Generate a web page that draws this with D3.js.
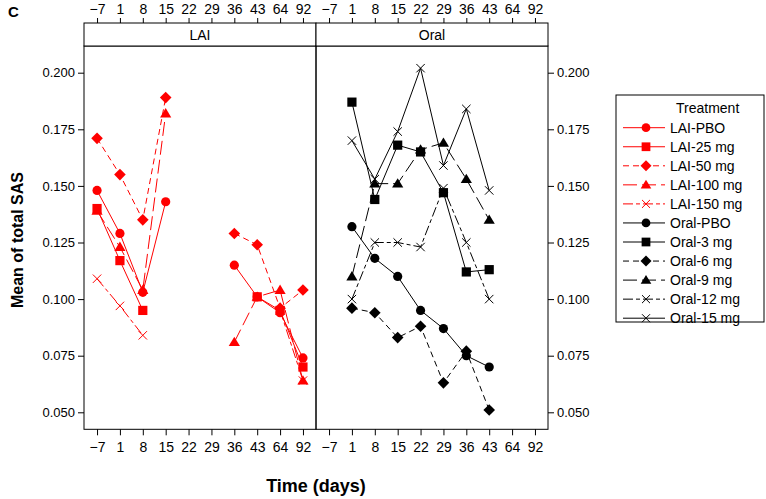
<!DOCTYPE html>
<html><head><meta charset="utf-8">
<script src="https://cdn.jsdelivr.net/npm/d3@7"></script>
<style>
body{margin:0;background:#fff;}
svg{display:block;font-family:"Liberation Sans",Arial,sans-serif;}
.narrow{font-family:"Liberation Sans Narrow","Liberation Sans",Arial,sans-serif;}
</style></head>
<body>
<svg id="chart" width="766" height="499"></svg>
<script>
// ---- data ----
const timeLabels = ["−7","1","8","15","22","29","36","43","64","92"];
const yTicks = [0.050, 0.075, 0.100, 0.125, 0.150, 0.175, 0.200];
const panels = ["LAI", "Oral"];

const laiPBO  = [0.148, 0.129, 0.103, 0.143, null, null, 0.115, 0.101, 0.094, 0.074];
const lai25   = [0.140, 0.117, 0.095, null, null, null, null, 0.101, 0.095, 0.070];
const lai50   = [0.171, 0.155, 0.135, 0.189, null, null, 0.129, 0.124, 0.096, 0.104];
const lai100  = [0.139, 0.123, 0.104, 0.182, null, null, 0.081, 0.101, 0.104, 0.064];
const lai150  = [0.109, 0.097, 0.084, null, null, null, null, null, 0.095, 0.064];

const oralPBO = [null, 0.132, 0.118, 0.110, 0.095, 0.087, 0.075, 0.070, null, null];
const oral3   = [null, 0.187, 0.144, 0.168, 0.165, 0.147, 0.112, 0.113, null, null];
const oral6   = [null, 0.096, 0.094, 0.083, 0.088, 0.063, 0.077, 0.051, null, null];
const oral9   = [null, 0.110, 0.151, 0.151, 0.166, 0.169, 0.153, 0.135, null, null];
const oral12  = [null, 0.100, 0.125, 0.125, 0.123, 0.149, 0.125, 0.100, null, null];
const oral15  = [null, 0.170, 0.153, 0.174, 0.202, 0.159, 0.184, 0.148, null, null];

const seriesNames = ["LAI-PBO","LAI-25 mg","LAI-50 mg","LAI-100 mg","LAI-150 mg",
                     "Oral-PBO","Oral-3 mg","Oral-6 mg","Oral-9 mg","Oral-12 mg","Oral-15 mg"];
const seriesValues = [laiPBO, lai25, lai50, lai100, lai150, oralPBO, oral3, oral6, oral9, oral12, oral15];
const seriesPanel = ["LAI","LAI","LAI","LAI","LAI","Oral","Oral","Oral","Oral","Oral","Oral"];

// ---- styles ----
const RED = "#ff0000", BLACK = "#000000";
const shapeOf = ["circle","square","diamond","triangle","x","circle","square","diamond","triangle","x","x"];
const dashOf  = [null, null, "6,4", "14,5", "10,3,4,3", null, null, "6,4", "14,5", "10,3,4,3", null];
const colorOf = seriesPanel.map(p => p === "LAI" ? RED : BLACK);

// ---- layout ----
const svg = d3.select("#chart");
const plotTop = 46, plotBottom = 429.3, stripTop = 23;
const panelX = {LAI: [84, 316], Oral: [316, 548]};

const y = d3.scaleLinear().domain([0.200, 0.050]).range([72.7, 412.3]);
const xScales = {};
panels.forEach(p => {
  xScales[p] = d3.scaleLinear().domain([-0.57, 9.57]).range(panelX[p]);
});

function drawMarker(g, shape, cx, cy, color, s) {
  s = s || 1;
  if (shape === "circle") {
    g.append("circle").attr("cx", cx).attr("cy", cy).attr("r", 4.6*s).attr("fill", color);
  } else if (shape === "square") {
    const h = 4.6*s;
    g.append("rect").attr("x", cx-h).attr("y", cy-h).attr("width", 2*h).attr("height", 2*h).attr("fill", color);
  } else if (shape === "diamond") {
    const h = 5.8*s;
    g.append("path").attr("d", `M${cx},${cy-h}L${cx+h},${cy}L${cx},${cy+h}L${cx-h},${cy}Z`).attr("fill", color);
  } else if (shape === "triangle") {
    const w = 5.6*s, h = 9.4*s;
    g.append("path").attr("d", `M${cx},${cy-h*0.58}L${cx+w},${cy+h*0.42}L${cx-w},${cy+h*0.42}Z`).attr("fill", color);
  } else if (shape === "x") {
    const h = 4.2*s;
    g.append("path").attr("d", `M${cx-h},${cy-h}L${cx+h},${cy+h}M${cx-h},${cy+h}L${cx+h},${cy-h}`)
      .attr("stroke", color).attr("stroke-width", 1).attr("fill", "none");
  }
}

// ---- panels: lines and markers ----
const linesG = svg.append("g");
seriesValues.forEach((vals, si) => {
  const xs = xScales[seriesPanel[si]];
  const pts = vals.map((v, i) => ({i, v}));
  const line = d3.line().defined(d => d.v !== null).x(d => xs(d.i)).y(d => y(d.v));
  linesG.append("path").attr("d", line(pts)).attr("fill", "none")
    .attr("stroke", colorOf[si]).attr("stroke-width", 1)
    .attr("stroke-dasharray", dashOf[si]);
});
const markG = svg.append("g");
seriesValues.forEach((vals, si) => {
  const xs = xScales[seriesPanel[si]];
  vals.forEach((v, i) => {
    if (v === null) return;
    drawMarker(markG, shapeOf[si], xs(i), y(v), colorOf[si]);
  });
});

// ---- frames, strips ----
panels.forEach(p => {
  const [x0, x1] = panelX[p];
  svg.append("rect").attr("x", x0).attr("y", plotTop).attr("width", x1-x0).attr("height", plotBottom-plotTop)
    .attr("fill", "none").attr("stroke", "#000").attr("stroke-width", 1);
  svg.append("rect").attr("x", x0).attr("y", stripTop).attr("width", x1-x0).attr("height", plotTop-stripTop)
    .attr("fill", "#fff").attr("stroke", "#000").attr("stroke-width", 1);
  svg.append("text").attr("class", "narrow").attr("x", (x0+x1)/2).attr("y", 40).attr("text-anchor", "middle")
    .attr("font-size", 14).text(p);

  // top axis
  const topAx = d3.axisTop(xScales[p]).tickValues(d3.range(10)).tickFormat(i => timeLabels[i]).tickSize(5).tickSizeOuter(0);
  const gt = svg.append("g").attr("class","narrow").attr("transform", `translate(0,${stripTop})`).call(topAx);
  gt.select(".domain").remove();
  gt.selectAll("text").attr("font-size", 14).attr("font-family", null).attr("fill","#000").attr("dy", "-0.1em");
  // bottom axis
  const botAx = d3.axisBottom(xScales[p]).tickValues(d3.range(10)).tickFormat(i => timeLabels[i]).tickSize(6).tickSizeOuter(0);
  const gb = svg.append("g").attr("class","narrow").attr("transform", `translate(0,${plotBottom})`).call(botAx);
  gb.select(".domain").remove();
  gb.selectAll("text").attr("font-size", 14).attr("font-family", null).attr("fill","#000").attr("dy", "0.95em");
});

// ---- y axes ----
const yl = svg.append("g").attr("transform", "translate(84,0)")
  .call(d3.axisLeft(y).tickValues(yTicks).tickFormat(d3.format(".3f")).tickSize(6).tickSizeOuter(0));
yl.select(".domain").remove();
yl.selectAll("text").attr("font-size", 13).attr("font-family", null).attr("fill","#000");
const yr = svg.append("g").attr("transform", "translate(548,0)")
  .call(d3.axisRight(y).tickValues(yTicks).tickFormat(d3.format(".3f")).tickSize(6).tickSizeOuter(0));
yr.select(".domain").remove();
yr.selectAll("text").attr("font-size", 13).attr("font-family", null).attr("fill","#000");

// ---- titles ----
svg.append("text").attr("x", 8).attr("y", 17).attr("font-weight", "bold").attr("font-size", 15).attr("class","narrow").text("C");
svg.append("text").attr("class","narrow").attr("x", 316).attr("y", 492).attr("text-anchor", "middle")
  .attr("font-weight", "bold").attr("font-size", 18).text("Time (days)");
svg.append("text").attr("transform", "translate(23,240) rotate(-90)").attr("text-anchor", "middle")
  .attr("font-weight", "bold").attr("font-size", 16).text("Mean of total SAS");

// ---- legend ----
const lg = svg.append("g");
lg.append("rect").attr("x", 616).attr("y", 95).attr("width", 148).attr("height", 227)
  .attr("fill", "#fff").attr("stroke", "#000").attr("stroke-width", 1);
lg.append("text").attr("x", 676).attr("y", 113).attr("font-size", 14).text("Treatment");
seriesNames.forEach((name, si) => {
  const cy = 127.7 + 19.05*si;
  lg.append("line").attr("x1", 623).attr("x2", 665).attr("y1", cy).attr("y2", cy)
    .attr("stroke", colorOf[si]).attr("stroke-width", 1).attr("stroke-dasharray", dashOf[si]);
  drawMarker(lg, shapeOf[si], 646, cy, colorOf[si], 0.95);
  lg.append("text").attr("x", 670).attr("y", cy + 5).attr("font-size", 14).text(name);
});
</script>
</body></html>
